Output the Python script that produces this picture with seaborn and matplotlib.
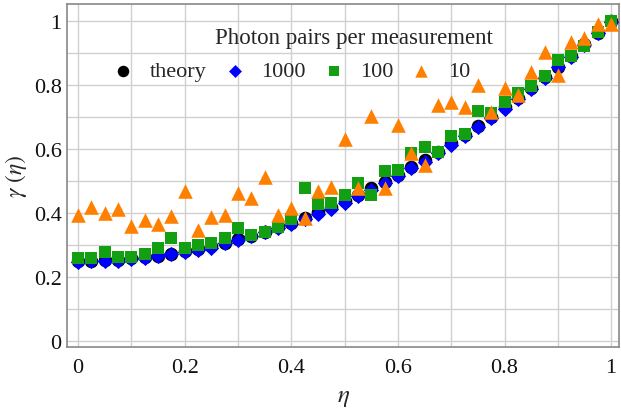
import matplotlib
matplotlib.use("Agg")
import matplotlib.pyplot as plt
import seaborn as sns
import pandas as pd
from matplotlib.ticker import MultipleLocator

eta = [0.0, 0.025, 0.05, 0.075, 0.1, 0.125, 0.15, 0.175, 0.2, 0.225,
       0.25, 0.275, 0.3, 0.325, 0.35, 0.375, 0.4, 0.425, 0.45, 0.475,
       0.5, 0.525, 0.55, 0.575, 0.6, 0.625, 0.65, 0.675, 0.7, 0.725,
       0.75, 0.775, 0.8, 0.825, 0.85, 0.875, 0.9, 0.925, 0.95, 0.975, 1.0]

theory = [0.250, 0.251, 0.252, 0.254, 0.258, 0.262, 0.267, 0.273, 0.280, 0.288,
          0.297, 0.307, 0.318, 0.329, 0.342, 0.356, 0.370, 0.386, 0.402, 0.419,
          0.438, 0.457, 0.477, 0.498, 0.520, 0.543, 0.567, 0.592, 0.618, 0.644,
          0.672, 0.701, 0.730, 0.761, 0.792, 0.824, 0.858, 0.892, 0.927, 0.963, 1.000]

pairs_1000 = [0.248, 0.249, 0.250, 0.251, 0.256, 0.259, 0.266, 0.271, 0.278, 0.285,
              0.292, 0.305, 0.315, 0.327, 0.340, 0.353, 0.366, 0.381, 0.397, 0.412,
              0.432, 0.452, 0.472, 0.495, 0.517, 0.540, 0.559, 0.588, 0.613, 0.641,
              0.668, 0.698, 0.725, 0.757, 0.788, 0.822, 0.856, 0.889, 0.925, 0.962, 0.998]

pairs_100 = [0.258, 0.260, 0.279, 0.263, 0.263, 0.271, 0.290, 0.321, 0.290, 0.301,
             0.305, 0.321, 0.352, 0.331, 0.342, 0.357, 0.381, 0.477, 0.428, 0.431,
             0.457, 0.493, 0.457, 0.530, 0.535, 0.588, 0.605, 0.592, 0.642, 0.647,
             0.720, 0.714, 0.746, 0.775, 0.796, 0.829, 0.879, 0.892, 0.923, 0.965, 1.000]

pairs_10 = [0.395, 0.420, 0.399, 0.413, 0.360, 0.379, 0.367, 0.392, 0.470, 0.348,
            0.389, 0.394, 0.462, 0.447, 0.514, 0.394, 0.416, 0.383, 0.470, 0.482,
            0.633, 0.477, 0.704, 0.478, 0.676, 0.588, 0.551, 0.737, 0.746, 0.733,
            0.800, 0.715, 0.790, 0.770, 0.840, 0.904, 0.830, 0.934, 0.946, 0.990, 0.990]

labels = ["theory", "1000", "100", "10"]
colors = ["#000000", "#0000ff", "#12a012", "#ff8000"]
legend_title = "Photon pairs per measurement"
x_ticks = [0, 0.2, 0.4, 0.6, 0.8, 1]
x_tick_labels = ["0", "0.2", "0.4", "0.6", "0.8", "1"]

sns.set_theme(style="white")
plt.rcParams["font.family"] = ["Liberation Serif", "DejaVu Serif"]
plt.rcParams["mathtext.fontset"] = "stix"

fig = plt.figure(figsize=(6.21, 4.10), dpi=100)
ax = fig.add_axes([0.108, 0.151, 0.889, 0.838])

series = [theory, pairs_1000, pairs_100, pairs_10]
markers = ["o", "D", "s", "^"]
sizes = [95, 60, 80, 110]
for i, (vals, lab, col, mk, sz) in enumerate(zip(series, labels, colors, markers, sizes)):
    df = pd.DataFrame({"eta": eta, "gamma": vals})
    sns.scatterplot(data=df, x="eta", y="gamma", ax=ax, color=col, marker=mk,
                    s=sz, linewidth=0, label=lab, zorder=3 + i)

ax.set_xlim(-0.0206, 1.015)
ax.set_ylim(-0.019, 1.055)
ax.set_xticks(x_ticks)
ax.set_xticklabels(x_tick_labels)
ax.set_yticks(x_ticks)
ax.set_yticklabels(x_tick_labels)
ax.xaxis.set_minor_locator(MultipleLocator(0.1))
ax.yaxis.set_minor_locator(MultipleLocator(0.1))
ax.grid(True, which="both", color="#d0d0d0", linewidth=1.0)
ax.set_axisbelow(True)
ax.tick_params(axis="both", which="both", length=0, labelsize=16, colors="#111111")
ax.tick_params(axis="x", pad=8)
ax.tick_params(axis="y", pad=4)
for sp in ax.spines.values():
    sp.set_color("#888888")
    sp.set_linewidth(1.2)

ax.set_xlabel(r"$\eta$", fontsize=18, labelpad=6)
ax.set_ylabel(r"$\gamma\ (\eta)$", fontsize=17, labelpad=3)

leg = ax.legend(loc="center left", bbox_to_anchor=(0.082, 0.803), ncol=4, frameon=False,
                fontsize=16, handletextpad=0.7, columnspacing=0.75, handlelength=1.0,
                borderaxespad=0, borderpad=0, markerscale=0.85)
ax.text(0.519, 0.9025, legend_title, transform=ax.transAxes, ha="center", va="center",
        fontsize=16.5)

fig.savefig("out.png", dpi=100)
